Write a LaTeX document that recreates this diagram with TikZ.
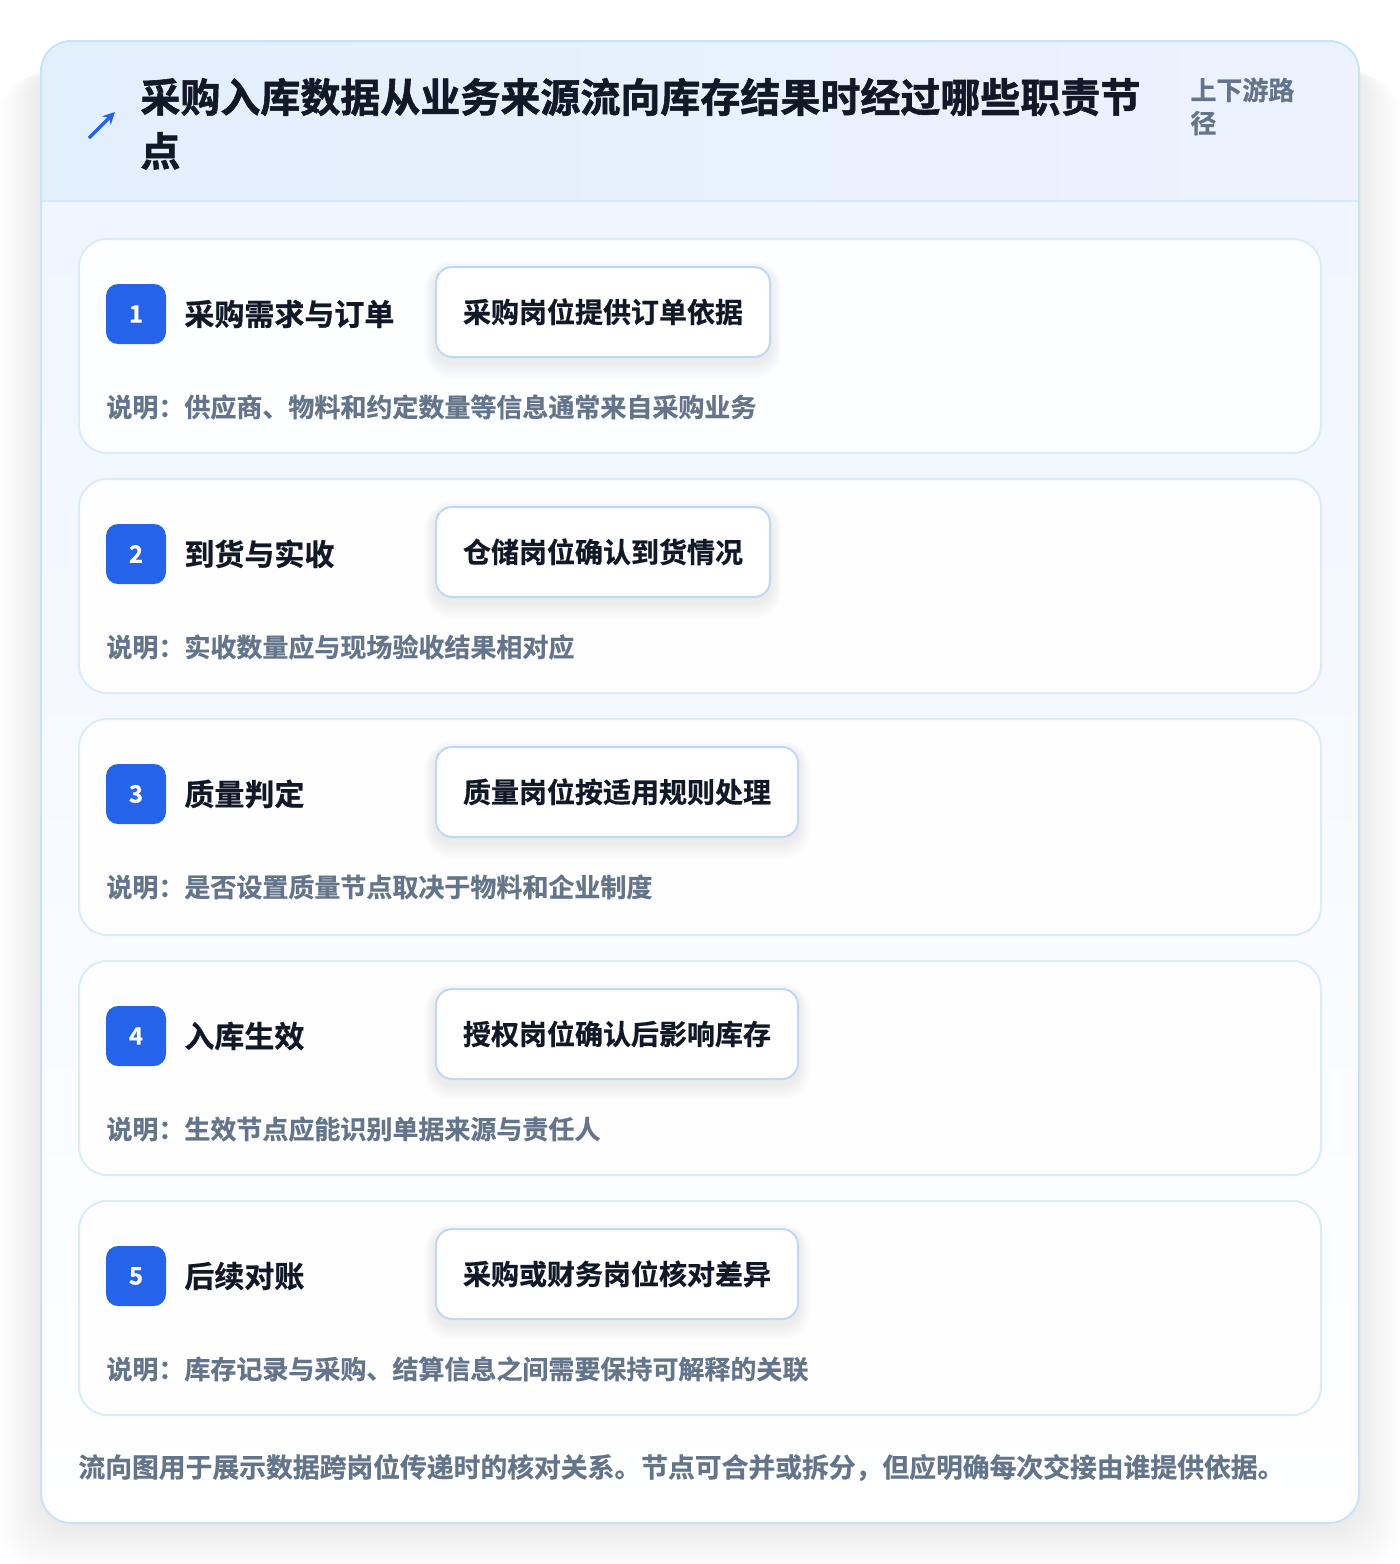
\documentclass[tikz,border=0pt]{standalone}
\usepackage{fontspec}
\setmainfont{Noto Sans CJK SC}[BoldFont={Noto Sans CJK SC Bold}, BoldFeatures={FakeBold=0.6}]
\newfontfamily\titlefont{Noto Sans CJK SC Bold}[FakeBold=1.4]
\usetikzlibrary{arrows.meta}
\pgfdeclarelayer{front}
\pgfsetlayers{main,front}
\definecolor{pagebg}{HTML}{FFFFFF}
\definecolor{hdrL}{HTML}{E2EFFD}
\definecolor{hdrR}{HTML}{EDF2FE}
\definecolor{bodyTop}{HTML}{EFF6FF}
\definecolor{mainBorder}{HTML}{C8E3F8}
\definecolor{hdrLine}{HTML}{D6E8FA}
\definecolor{cardBorder}{HTML}{DCEBFA}
\definecolor{roleBorder}{HTML}{BFD8F5}
\definecolor{badgeBlue}{HTML}{2563EB}
\definecolor{inkDark}{HTML}{111827}
\definecolor{inkGray}{HTML}{64748B}
\tikzset{
  cjk/.style={inner sep=0pt, anchor=west},
  card/.style={draw=cardBorder, line width=1pt, fill=white, fill opacity=0.92, text opacity=1,
    rounded corners=14pt, minimum width=621pt, minimum height=107pt, inner sep=0pt},
  badge/.style={fill=badgeBlue, rounded corners=6pt, minimum size=30pt, inner sep=0pt,
    text=white, font=\bfseries\fontsize{12pt}{14pt}\selectfont},
  steptitle/.style={cjk, text=inkDark, text height=13.2pt, text depth=1.8pt,
    font=\bfseries\fontsize{15pt}{18pt}\selectfont},
  rolebox/.style={draw=roleBorder, line width=1pt, fill=white, rounded corners=8pt,
    anchor=west, inner xsep=13.5pt, inner ysep=0pt, minimum height=45pt,
    text height=12.32pt, text depth=1.68pt, text=inkDark,
    font=\bfseries\fontsize{14pt}{17pt}\selectfont},
  note/.style={cjk, text=inkGray, text height=11.44pt, text depth=1.56pt,
    font=\bfseries\fontsize{13pt}{16pt}\selectfont},
  titletext/.style={cjk, text=inkDark, text height=17.6pt, text depth=2.4pt,
    font=\titlefont\fontsize{20pt}{24pt}\selectfont},
  footnote/.style={cjk, text=inkGray, text height=11.79pt, text depth=1.61pt,
    font=\bfseries\fontsize{13.4pt}{16pt}\selectfont},
}
\begin{document}
\begin{tikzpicture}[x=0.5pt,y=-0.5pt]
\useasboundingbox (0,0) rectangle (1400,1564);
\fill[pagebg] (0,0) rectangle (1400,1564);
% soft shadow of the main card
\foreach \i in {1,...,20}{
  \fill[black, opacity=0.0045, rounded corners=20pt] ({41-\i*2.1},{56+\i*1.0}) rectangle ({1359+\i*2.1},{1526+\i*2.2});
}
% main card
\begin{scope}
  \clip[rounded corners=15pt] (41,41) rectangle (1359,1523);
  \fill[white] (41,41) rectangle (1359,1523);
  \shade[top color=bodyTop, bottom color=white] (41,201) rectangle (1359,1523);
  \shade[left color=hdrL, right color=hdrR] (41,41) rectangle (1359,201);
  \draw[hdrLine, line width=1pt] (41,201) -- (1359,201);
\end{scope}
\draw[mainBorder, line width=1pt, rounded corners=15pt] (41,41) rectangle (1359,1523);
% header
\draw[badgeBlue, line width=1.7pt, -{Stealth[length=6pt,width=6pt]}] (89,138) -- (115,112);
\node[titletext] (title1) at (140,97) {采购入库数据从业务来源流向库存结果时经过哪些职责节};
\node[titletext] (title2) at (140,151) {点};
\node[note] (tag1) at (1190,90) {上下游路};
\node[note] (tag2) at (1190,123) {径};
% steps
\foreach \n/\t/\h/\title/\role/\desc in {
  1/239/214/采购需求与订单/采购岗位提供订单依据/说明：供应商、物料和约定数量等信息通常来自采购业务,
  2/479/214/到货与实收/仓储岗位确认到货情况/说明：实收数量应与现场验收结果相对应,
  3/719/216/质量判定/质量岗位按适用规则处理/说明：是否设置质量节点取决于物料和企业制度,
  4/961/214/入库生效/授权岗位确认后影响库存/说明：生效节点应能识别单据来源与责任人,
  5/1201/214/后续对账/采购或财务岗位核对差异/说明：库存记录与采购、结算信息之间需要保持可解释的关联}{
  \node[card, minimum height={\h*0.5pt}] (card\n) at (700,{\t+\h/2}) {};
  \begin{pgfonlayer}{front}
    \node[badge] (badge\n) at (136,{\t+75}) {\n};
    \node[steptitle] (title\n) at (184,{\t+75}) {\title};
    \node[rolebox] (role\n) at (435,{\t+73}) {\role};
    \node[note] (note\n) at (106,{\t+168}) {\desc};
  \end{pgfonlayer}
  \foreach \j in {1,...,9}{
    \fill[black, opacity=0.007, rounded corners={8pt+\j*0.6pt}]
      ([xshift={-\j*0.6pt}, yshift={\j*0.5pt-2pt}]role\n.north west) rectangle
      ([xshift={\j*0.6pt}, yshift={-\j*0.9pt-2pt}]role\n.south east);
  }
}
% footer
\node[footnote] (footer) at (78,1467) {流向图用于展示数据跨岗位传递时的核对关系。节点可合并或拆分，但应明确每次交接由谁提供依据。};
\end{tikzpicture}
\end{document}
